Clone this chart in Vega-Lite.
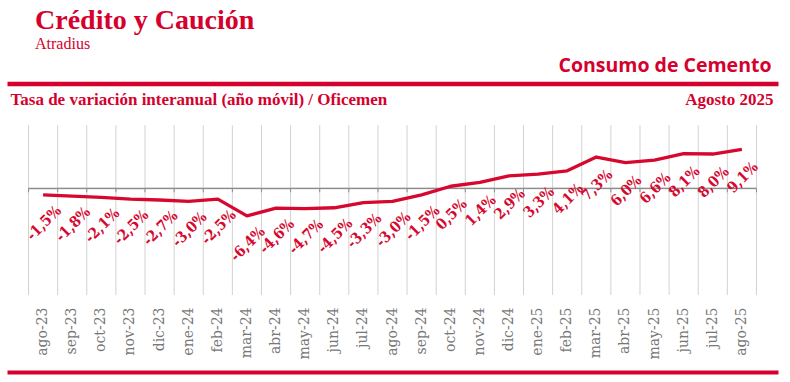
{
  "$schema": "https://vega.github.io/schema/vega-lite/v6.json",
  "width": 771,
  "height": 288.5,
  "autosize": {"type": "none"},
  "padding": {"left": 7, "top": 83.5, "right": 12, "bottom": 10},
  "background": "white",
  "title": {
    "text": "Crédito y Caución",
    "subtitle": "Atradius",
    "anchor": "start",
    "frame": "group",
    "dx": 28,
    "font": "Liberation Serif",
    "fontSize": 28,
    "fontWeight": "bold",
    "color": "#d5002d",
    "subtitleFont": "Liberation Serif",
    "subtitleFontSize": 16,
    "subtitleColor": "#d5002d",
    "subtitlePadding": 1,
    "offset": 4
  },
  "data": {
    "values": [
      {"m": "ago-23", "v": -1.5, "lab": "-1,5%"},
      {"m": "sep-23", "v": -1.8, "lab": "-1,8%"},
      {"m": "oct-23", "v": -2.1, "lab": "-2,1%"},
      {"m": "nov-23", "v": -2.5, "lab": "-2,5%"},
      {"m": "dic-23", "v": -2.7, "lab": "-2,7%"},
      {"m": "ene-24", "v": -3.0, "lab": "-3,0%"},
      {"m": "feb-24", "v": -2.5, "lab": "-2,5%"},
      {"m": "mar-24", "v": -6.4, "lab": "-6,4%"},
      {"m": "abr-24", "v": -4.6, "lab": "-4,6%"},
      {"m": "may-24", "v": -4.7, "lab": "-4,7%"},
      {"m": "jun-24", "v": -4.5, "lab": "-4,5%"},
      {"m": "jul-24", "v": -3.3, "lab": "-3,3%"},
      {"m": "ago-24", "v": -3.0, "lab": "-3,0%"},
      {"m": "sep-24", "v": -1.5, "lab": "-1,5%"},
      {"m": "oct-24", "v": 0.5, "lab": "0,5%"},
      {"m": "nov-24", "v": 1.4, "lab": "1,4%"},
      {"m": "dic-24", "v": 2.9, "lab": "2,9%"},
      {"m": "ene-25", "v": 3.3, "lab": "3,3%"},
      {"m": "feb-25", "v": 4.1, "lab": "4,1%"},
      {"m": "mar-25", "v": 7.3, "lab": "7,3%"},
      {"m": "abr-25", "v": 6.0, "lab": "6,0%"},
      {"m": "may-25", "v": 6.6, "lab": "6,6%"},
      {"m": "jun-25", "v": 8.1, "lab": "8,1%"},
      {"m": "jul-25", "v": 8.0, "lab": "8,0%"},
      {"m": "ago-25", "v": 9.1, "lab": "9,1%"}
    ]
  },
  "layer": [
    {
      "mark": {"type": "rule", "color": "#d2d2d2", "strokeWidth": 1},
      "encoding": {
        "x": {"field": "m", "type": "nominal", "sort": null, "bandPosition": 0,
              "scale": {"type": "band", "paddingInner": 0, "paddingOuter": 0.74},
              "axis": {"orient": "top", "labels": false, "ticks": false, "grid": false,
                       "domain": true, "domainColor": "#d5002d", "domainWidth": 4.5,
                       "title": "Consumo de Cemento", "titleFont": "Open Sans", "titleFontSize": 19.5,
                       "titleFontWeight": "bold", "titleColor": "#d5002d", "titleAlign": "right",
                       "titleBaseline": "alphabetic", "titleX": 764, "titleY": -12, "titleAngle": 0}},
        "y": {"datum": 14.7, "type": "quantitative",
              "scale": {"domain": [-42.7, 24.4], "nice": false, "zero": false}, "axis": null},
        "y2": {"datum": -24.8}
      }
    },
    {
      "transform": [{"filter": "datum.m == 'ago-25'"}],
      "mark": {"type": "rule", "color": "#d2d2d2", "strokeWidth": 1},
      "encoding": {
        "x": {"field": "m", "type": "nominal", "sort": null, "bandPosition": 1, "axis": null},
        "y": {"datum": 14.7, "type": "quantitative", "axis": null},
        "y2": {"datum": -24.8}
      }
    },
    {
      "mark": {"type": "bar", "color": "#8c8c8c"},
      "encoding": {
        "x": {"field": "m", "type": "nominal", "sort": null, "axis": null},
        "y": {"datum": 0.17, "type": "quantitative", "axis": null},
        "y2": {"datum": -0.17}
      }
    },
    {
      "mark": {"type": "rule", "color": "#8c8c8c", "strokeWidth": 1},
      "encoding": {
        "x": {"field": "m", "type": "nominal", "sort": null, "bandPosition": 0, "axis": null},
        "y": {"datum": 0, "type": "quantitative", "axis": null},
        "y2": {"datum": -0.9}
      }
    },
    {
      "transform": [{"filter": "datum.m == 'ago-25'"}],
      "mark": {"type": "rule", "color": "#8c8c8c", "strokeWidth": 1},
      "encoding": {
        "x": {"field": "m", "type": "nominal", "sort": null, "bandPosition": 1, "axis": null},
        "y": {"datum": 0, "type": "quantitative", "axis": null},
        "y2": {"datum": -0.9}
      }
    },
    {
      "mark": {"type": "line", "color": "#d6082f", "strokeWidth": 3.3, "strokeJoin": "round"},
      "encoding": {
        "x": {"field": "m", "type": "nominal", "sort": null, "bandPosition": 0.5,
              "axis": {"orient": "bottom", "labelAngle": 270, "labelPadding": -65, "ticks": false,
                       "grid": false, "domain": true, "domainColor": "#d5002d", "domainWidth": 4,
                       "labelFont": "DejaVu Serif", "labelFontSize": 14, "labelColor": "#777777",
                       "title": null}},
        "y": {"field": "v", "type": "quantitative",
              "axis": {"orient": "left", "labels": false, "ticks": false, "domain": false, "grid": false,
                       "title": "Tasa de variación interanual  (año móvil) / Oficemen",
                       "titleFont": "Liberation Serif", "titleFontSize": 17, "titleFontWeight": "bold",
                       "titleColor": "#d5002d", "titleAngle": 0, "titleAlign": "left",
                       "titleBaseline": "alphabetic", "titleX": 3, "titleY": 21}}
      }
    },
    {
      "mark": {"type": "text", "color": "#d6082f", "font": "DejaVu Serif Condensed, DejaVu Serif",
               "fontSize": 15, "fontWeight": "bold", "angle": 315, "align": "center",
               "baseline": "middle", "radius": 28, "theta": 3.12},
      "encoding": {
        "x": {"field": "m", "type": "nominal", "sort": null, "bandPosition": 0.5, "axis": null},
        "y": {"field": "v", "type": "quantitative",
              "axis": {"orient": "right", "labels": false, "ticks": false, "domain": false, "grid": false,
                       "title": "Agosto 2025",
                       "titleFont": "Liberation Serif", "titleFontSize": 17, "titleFontWeight": "bold",
                       "titleColor": "#d5002d", "titleAngle": 0, "titleAlign": "right",
                       "titleBaseline": "alphabetic", "titleX": -5, "titleY": 21}},
        "text": {"field": "lab"}
      }
    }
  ],
  "resolve": {"axis": {"x": "independent", "y": "independent"}},
  "config": {"view": {"stroke": null}}
}
